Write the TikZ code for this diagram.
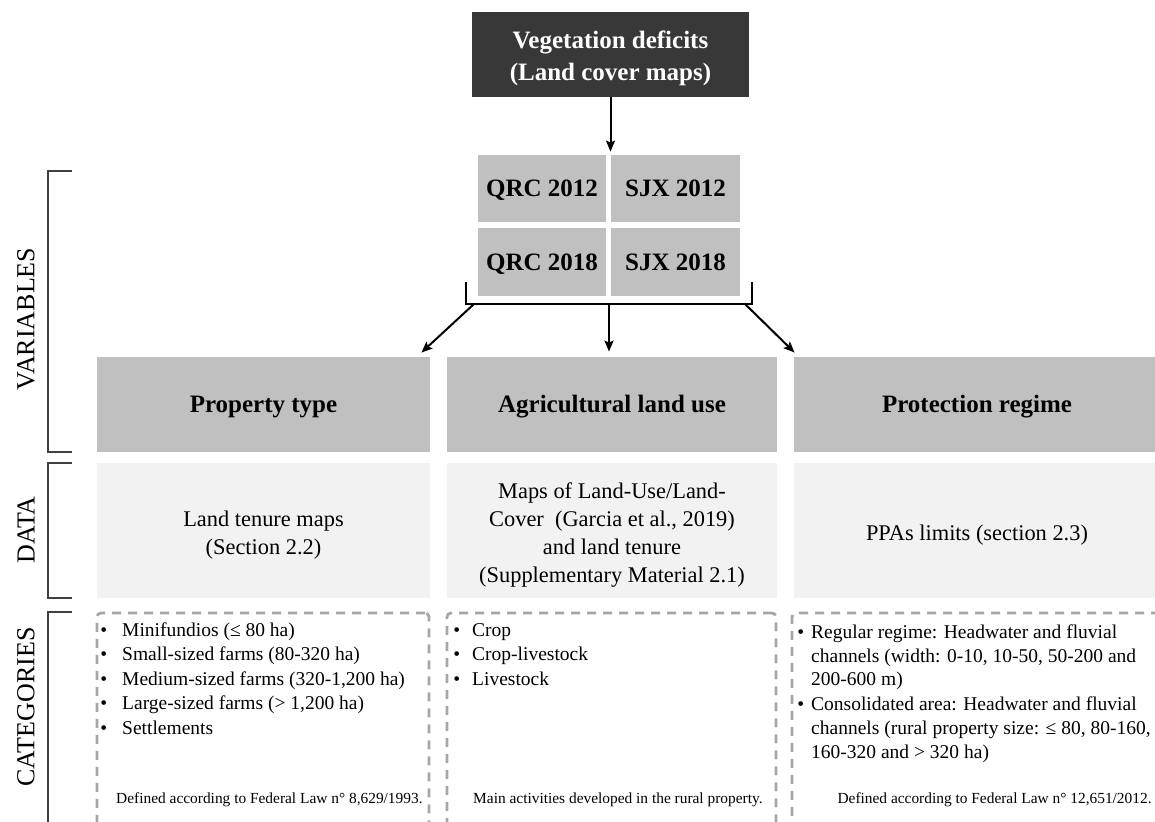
\documentclass[tikz,border=0pt]{standalone}
\usepackage{fontspec}
\setmainfont{Liberation Serif}
\usetikzlibrary{arrows.meta,calc}
\definecolor{darkbox}{HTML}{383838}
\definecolor{midgray}{HTML}{C0C0C0}
\definecolor{lightbg}{HTML}{F2F2F2}
\definecolor{dashgray}{HTML}{A6A6A6}
\definecolor{brk}{HTML}{404040}
\newcommand{\mylower}[2]{\raisebox{-#1}[\height][\depth]{#2}}
\begin{document}
\begin{tikzpicture}[x=0.5pt,y=-0.5pt,
  topbox/.style={fill=darkbox, inner sep=0pt, text=white, font=\fontsize{12.5}{16}\selectfont\bfseries},
  cellbox/.style={fill=midgray, inner sep=0pt, text height=8.3pt, text depth=0pt, font=\fontsize{12.5}{15}\selectfont\bfseries},
  hdrbox/.style={fill=midgray, inner sep=0pt, minimum width=166.5pt, minimum height=47.5pt, text height=8.3pt, text depth=0pt, font=\fontsize{12.5}{15}\selectfont\bfseries},
  databox/.style={fill=lightbg, inner sep=0pt, minimum width=166.5pt, minimum height=67.5pt, font=\fontsize{11.2}{14.1}\selectfont},
  catbox/.style={draw=dashgray, line width=1.4pt, dash pattern=on 4.5pt off 3.5pt, rounded corners=2pt, inner sep=0pt, minimum height=118.5pt},
  cattext/.style={inner sep=0pt, anchor=base west, font=\fontsize{9.75}{12.25}\selectfont},
  foot/.style={inner sep=0pt, anchor=base east, font=\fontsize{7.7}{9}\selectfont},
  sidelabel/.style={rotate=90, inner sep=0pt, font=\fontsize{13}{15}\selectfont},
  bracketline/.style={draw=brk, line width=0.6pt},
  arr/.style={draw=black, line width=1pt, -{Stealth[length=5.5pt,width=4.5pt,inset=1pt]}},
  bracebar/.style={draw=black, line width=1pt, line join=miter}
]
\useasboundingbox (0,0) rectangle (1155,822);
\clip (0,0) rectangle (1155,822);

% top
\node[topbox, minimum width=138.5pt, minimum height=42.5pt] (top) at (610.5,54.5) {\mylower{2pt}{\begin{tabular}{@{}c@{}}Vegetation deficits\\(Land cover maps)\end{tabular}}};

% grid
\node[cellbox, minimum width=64pt, minimum height=33.5pt] (q12) at (542,188.5) {QRC 2012};
\node[cellbox, minimum width=64.5pt, minimum height=33.5pt] (s12) at (675.5,188.5) {SJX 2012};
\node[cellbox, minimum width=64pt, minimum height=34pt] (q18) at (542,262) {QRC 2018};
\node[cellbox, minimum width=64.5pt, minimum height=34pt] (s18) at (675.5,262) {SJX 2018};

\draw[arr, shorten >=1.5pt] (top.south) -- (top.south |- q12.north);

% headers
\node[hdrbox] (h1) at (263.5,404.5) {Property type};
\node[hdrbox, minimum width=165pt] (h2) at (612,404.5) {Agricultural land use};
\node[hdrbox, minimum width=183pt] (h3) at (977,404.5) {Protection regime};

% bracket under grid
\coordinate (bl) at (466,282);
\coordinate (blb) at (466,304);
\coordinate (brb) at (752,304);
\coordinate (br) at (752,282);
\coordinate (bm) at (609,304);
\coordinate (a1s) at (474,304);
\coordinate (a3s) at (745,304);
\draw[bracebar] (bl) -- (blb) -- (brb) -- (br);
\draw[arr, shorten >=2.5pt] (bm) -- (bm |- h2.north);
\draw[arr] (a1s) -- ($(h1.north east)+(-9,-4)$);
\draw[arr] (a3s) -- ($(h3.north west)+(1,-4)$);

% data
\node[databox] (d1) at (263.5,530.5) {\mylower{2.25pt}{\begin{tabular}{@{}c@{}}Land tenure maps\\(Section 2.2)\end{tabular}}};
\node[databox, minimum width=165pt] (d2) at (612,530.5) {\mylower{2.25pt}{\begin{tabular}{@{}c@{}}Maps of Land-Use/Land-\\Cover\ \ (Garcia et al., 2019)\\and land tenure\\(Supplementary Material 2.1)\end{tabular}}};
\node[databox, minimum width=183pt] (d3) at (977,530.5) {\mylower{2.5pt}{PPAs limits (section 2.3)}};

% categories
\node[catbox, minimum width=166pt] (c1) at (263,731.5) {};
\node[catbox, minimum width=164.5pt] (c2) at (611.5,731.5) {};
\node[catbox, minimum width=194pt] (c3) at (986,731.5) {};

\node[cattext] (t1) at (100,636) {\begin{tabular}[t]{@{}l@{\hspace{7.5pt}}l@{}}
\textbullet & Minifundios (≤ 80 ha)\\
\textbullet & Small-sized farms (80-320 ha)\\
\textbullet & Medium-sized farms (320-1,200 ha)\\
\textbullet & Large-sized farms (> 1,200 ha)\\
\textbullet & Settlements
\end{tabular}};
\node[cattext] (t2) at (453,636) {\begin{tabular}[t]{@{}l@{\hspace{6pt}}l@{}}
\textbullet & Crop\\
\textbullet & Crop-livestock\\
\textbullet & Livestock
\end{tabular}};
\node[cattext, font=\fontsize{9.75}{12}\selectfont] (t3) at (797,638) {\begin{tabular}[t]{@{}l@{\hspace{3.5pt}}l@{}}
\textbullet & Regular regime: Headwater and fluvial\\
 & channels (width: 0-10, 10-50, 50-200 and\\
 & 200-600 m)\\
\textbullet & Consolidated area: Headwater and fluvial\\
 & channels (rural property size: ≤ 80, 80-160,\\
 & 160-320 and > 320 ha)
\end{tabular}};

\node[foot] (f1) at (423,803) {Defined according to Federal Law n° 8,629/1993.};
\node[foot] (f2) at (763,803) {Main activities developed in the rural property.};
\node[foot] (f3) at (1152,803) {Defined according to Federal Law n° 12,651/2012.};

% side labels and brackets
\node[sidelabel] (lv) at (26,319) {VARIABLES};
\node[sidelabel] (ld) at (26,530) {DATA};
\node[sidelabel] (lc) at (26,707) {CATEGORIES};
\draw[bracketline] (72,171) -- (48,171) -- (48,452) -- (72,452);
\draw[bracketline] (72,463) -- (48,463) -- (48,598) -- (72,598);
\draw[bracketline] (72,612) -- (48,612) -- (48,840);
\end{tikzpicture}
\end{document}
